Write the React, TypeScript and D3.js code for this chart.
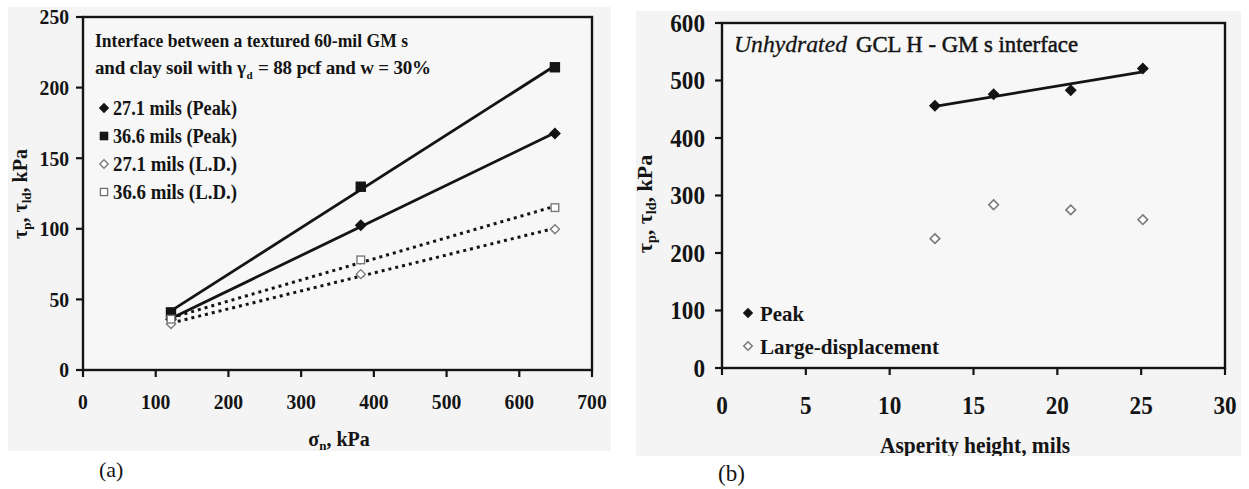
import React from "react";
import * as d3 from "d3";

// ---------- Data ----------
// Panel (a): normal stress (kPa) vs shear strength (kPa)
const aNormalStress = [121, 382, 649];
const a271Peak = [36, 102.5, 167.5];
const a366Peak = [40.8, 129.8, 214.4];
const a271LD = [32.5, 67.9, 99.7];
const a366LD = [36, 78, 115];
const aXTicks = [0, 100, 200, 300, 400, 500, 600, 700];
const aYTicks = [0, 50, 100, 150, 200, 250];
const aLegend = ["27.1 mils (Peak)", "36.6 mils (Peak)", "27.1 mils (L.D.)", "36.6 mils (L.D.)"];

// Panel (b): asperity height (mils) vs shear strength (kPa)
const bAsperity = [12.7, 16.2, 20.8, 25.1];
const bPeak = [456, 476, 483, 521];
const bLD = [225, 284, 275, 258];
const bXTicks = [0, 5, 10, 15, 20, 25, 30];
const bYTicks = [0, 100, 200, 300, 400, 500, 600];
const bLegend = ["Peak", "Large-displacement"];

const SERIF = "'Liberation Serif', 'Times New Roman', serif";
const INK = "#141414";
const GRAY = "#7a7a7a";

function fit(xs: number[], ys: number[]) {
  const mx = d3.mean(xs)!;
  const my = d3.mean(ys)!;
  let sxy = 0, sxx = 0;
  xs.forEach((x, i) => {
    sxy += (x - mx) * (ys[i] - my);
    sxx += (x - mx) * (x - mx);
  });
  const m = sxy / sxx;
  const b = my - m * mx;
  const x0 = d3.min(xs)!;
  const x1 = d3.max(xs)!;
  return [
    [x0, m * x0 + b],
    [x1, m * x1 + b],
  ] as [number, number][];
}

function Diamond({ x, y, r, fill, stroke, sw = 1.4 }: any) {
  const p = `M${x},${y - r}L${x + r},${y}L${x},${y + r}L${x - r},${y}Z`;
  return <path d={p} fill={fill} stroke={stroke} strokeWidth={sw} />;
}
function Square({ x, y, r, fill, stroke, sw = 1.4 }: any) {
  return <rect x={x - r} y={y - r} width={2 * r} height={2 * r} fill={fill} stroke={stroke} strokeWidth={sw} />;
}

function Axes({ x, y, xTicks, yTicks, fs, digitW, yLabelRight, xLabelY }: any) {
  const [x0, x1] = x.range();
  const [y0, y1] = y.range();
  return (
    <g>
      <rect x={x0} y={y1} width={x1 - x0} height={y0 - y1} fill="none" stroke={INK} strokeWidth={2.4} />
      {xTicks.map((t: number) => (
        <g key={"x" + t}>
          <line x1={x(t)} x2={x(t)} y1={y0} y2={y0 + 7} stroke={INK} strokeWidth={2.2} />
          <text
            x={x(t)}
            y={xLabelY}
            textAnchor="middle"
            fontFamily={SERIF}
            fontWeight="bold"
            fontSize={fs}
            fill={INK}
            textLength={String(t).length * digitW}
            lengthAdjust="spacingAndGlyphs"
          >
            {t}
          </text>
        </g>
      ))}
      {yTicks.map((t: number) => (
        <g key={"y" + t}>
          <line x1={x0 - 7} x2={x0} y1={y(t)} y2={y(t)} stroke={INK} strokeWidth={2.2} />
          <text
            x={yLabelRight}
            y={y(t)}
            dy="0.35em"
            textAnchor="end"
            fontFamily={SERIF}
            fontWeight="bold"
            fontSize={fs}
            fill={INK}
            textLength={String(t).length * digitW}
            lengthAdjust="spacingAndGlyphs"
          >
            {t}
          </text>
        </g>
      ))}
    </g>
  );
}

function PanelA() {
  const x = d3.scaleLinear().domain([0, 700]).range([83, 592]);
  const y = d3.scaleLinear().domain([0, 250]).range([370, 17]);
  const line = d3
    .line<[number, number]>()
    .x((d) => x(d[0]))
    .y((d) => y(d[1]));
  const series = [
    { v: a271Peak, kind: "diamond", filled: true, dash: null },
    { v: a366Peak, kind: "square", filled: true, dash: null },
    { v: a271LD, kind: "diamond", filled: false, dash: "3 4" },
    { v: a366LD, kind: "square", filled: false, dash: "3 4" },
  ];
  const marker = (s: any, cx: number, cy: number, key: any, small = false) => {
    const fill = s.filled ? INK : "#fff";
    const stroke = s.filled ? INK : GRAY;
    if (s.kind === "diamond")
      return <Diamond key={key} x={cx} y={cy} r={small ? 4.2 : s.filled ? 5 : 4.5} fill={fill} stroke={stroke} />;
    return <Square key={key} x={cx} y={cy} r={small ? 3.6 : s.filled ? 4.5 : 3.8} fill={fill} stroke={stroke} />;
  };
  const tStyle = { fontFamily: SERIF, fontWeight: "bold" as const, fill: INK };
  return (
    <g>
      <rect x={8} y={7} width={603} height={444} fill="#f4f4f4" />
      <rect x={83} y={17} width={509} height={353} fill="#f7f7f7" />
      {series.map((s, i) => (
        <path
          key={"l" + i}
          d={line(fit(aNormalStress, s.v))!}
          fill="none"
          stroke={INK}
          strokeWidth={s.dash ? 3 : 2.8}
          strokeDasharray={s.dash || undefined}
        />
      ))}
      {series.map((s, i) => s.v.map((v, j) => marker(s, x(aNormalStress[j]), y(v), `m${i}-${j}`)))}
      <Axes x={x} y={y} xTicks={aXTicks} yTicks={aYTicks} fs={21} digitW={9.8} yLabelRight={69} xLabelY={409} />
      <text x={95} y={47} {...tStyle} fontSize={19} textLength={313} lengthAdjust="spacingAndGlyphs">
        Interface between a textured 60-mil GM s
      </text>
      <text x={95} y={74} {...tStyle} fontSize={19} letterSpacing={-0.2}>
        and clay soil with γ<tspan fontSize={11} dx={1} dy={5}>d</tspan>
        <tspan dx={1} dy={-5}> = 88 pcf and w = 30%</tspan>
      </text>
      {aLegend.map((name, i) => {
        const ly = 108 + i * 28;
        return (
          <g key={name}>
            {marker(series[i], 104, ly, "lg" + i, true)}
            <text x={113} y={ly} dy="0.35em" {...tStyle} fontSize={20} textLength={124} lengthAdjust="spacingAndGlyphs">
              {name}
            </text>
          </g>
        );
      })}
      <text x={339} y={446} textAnchor="middle" {...tStyle} fontSize={20}>
        σ<tspan fontSize={13} dy={4}>n</tspan>
        <tspan dy={-4}>, kPa</tspan>
      </text>
      <text transform="translate(27,194) rotate(-90)" textAnchor="middle" {...tStyle} fontSize={20}>
        τ<tspan fontSize={13} dy={4}>p</tspan>
        <tspan dy={-4}>, τ</tspan>
        <tspan fontSize={13} dy={4}>ld</tspan>
        <tspan dy={-4}>, kPa</tspan>
      </text>
      <text x={99} y={477} fontFamily={SERIF} fontSize={22} fill={INK}>
        (a)
      </text>
    </g>
  );
}

function PanelB() {
  const x = d3.scaleLinear().domain([0, 30]).range([722, 1225]);
  const y = d3.scaleLinear().domain([0, 600]).range([368, 23]);
  const line = d3
    .line<[number, number]>()
    .x((d) => x(d[0]))
    .y((d) => y(d[1]));
  return (
    <g>
      <defs>
        <clipPath id="clipB">
          <rect x={630} y={0} width={619} height={456} />
        </clipPath>
      </defs>
      <rect x={636} y={11} width={605} height={445} fill="#f4f4f4" />
      <rect x={722} y={23} width={503} height={345} fill="#f7f7f7" />
      <path d={line(fit(bAsperity, bPeak))!} fill="none" stroke={INK} strokeWidth={2.8} />
      {bPeak.map((v, i) => (
        <Diamond key={"p" + i} x={x(bAsperity[i])} y={y(v)} r={5} fill={INK} stroke={INK} />
      ))}
      {bLD.map((v, i) => (
        <Diamond key={"d" + i} x={x(bAsperity[i])} y={y(v)} r={4.8} fill="#fff" stroke={GRAY} sw={1.6} />
      ))}
      <Axes x={x} y={y} xTicks={bXTicks} yTicks={bYTicks} fs={25} digitW={11.6} yLabelRight={705} xLabelY={414} />
      <text x={734} y={52} fontFamily={SERIF} fontStyle="italic" fontSize={23} fill={INK} stroke={INK} strokeWidth={0.3} textLength={113} lengthAdjust="spacingAndGlyphs">
        Unhydrated
      </text>
      <text x={856} y={52} fontFamily={SERIF} fontSize={23} fill={INK} stroke={INK} strokeWidth={0.5} textLength={222} lengthAdjust="spacingAndGlyphs">
        GCL H - GM s interface
      </text>
      {bLegend.map((name, i) => {
        const ly = 313 + i * 33;
        return (
          <g key={name}>
            {i === 0 ? (
              <Diamond x={748} y={ly} r={4.2} fill={INK} stroke={INK} />
            ) : (
              <Diamond x={748} y={ly} r={4.2} fill="#fff" stroke={GRAY} sw={1.6} />
            )}
            <text x={760} y={ly} dy="0.35em" fontFamily={SERIF} fontWeight="bold" fontSize={22} fill={INK} textLength={i === 0 ? 44 : 179} lengthAdjust="spacingAndGlyphs">
              {name}
            </text>
          </g>
        );
      })}
      <g clipPath="url(#clipB)">
        <text x={880} y={453} fontFamily={SERIF} fontWeight="bold" fontSize={23} fill={INK} textLength={190} lengthAdjust="spacingAndGlyphs">
          Asperity height, mils
        </text>
      </g>
      <text transform="translate(652,204) rotate(-90)" textAnchor="middle" fontFamily={SERIF} fontWeight="bold" fontSize={22} fill={INK}>
        τ<tspan fontSize={14} dy={4}>p</tspan>
        <tspan dy={-4}>, τ</tspan>
        <tspan fontSize={14} dy={4}>ld</tspan>
        <tspan dy={-4}>, kPa</tspan>
      </text>
      <text x={718} y={481} fontFamily={SERIF} fontSize={23} fill={INK}>
        (b)
      </text>
    </g>
  );
}

export default function App() {
  return (
    <svg width={1249} height={489} viewBox="0 0 1249 489" style={{ position: "absolute", left: 0, top: 0, background: "#fff" }}>
      <rect x={0} y={0} width={1249} height={489} fill="#fff" />
      <PanelA />
      <PanelB />
    </svg>
  );
}
